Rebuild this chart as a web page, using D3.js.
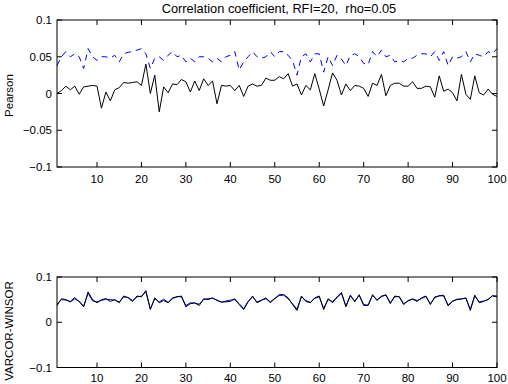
<!DOCTYPE html>
<html>
<head>
<meta charset="utf-8">
<script src="https://cdn.jsdelivr.net/npm/d3@7"></script>
<style>
  body { margin: 0; background: #fff; }
  svg { display: block; font-family: "Liberation Sans", Arial, Helvetica, sans-serif; }
</style>
</head>
<body>
<svg id="chart"></svg>
<script>
// Data (index 1..100)
const titleText = 'Correlation coefficient, RFI=20,  rho=0.05';
const xTicks = [10, 20, 30, 40, 50, 60, 70, 80, 90, 100];
const topYTicks = [-0.1, -0.05, 0, 0.05, 0.1];
const bottomYTicks = [-0.1, 0, 0.1];

const pearsonBlack = [
  0.000, 0.004, 0.010, 0.005, 0.010, -0.001, 0.009, 0.010, 0.011, 0.010,
  -0.020, 0.002, -0.010, 0.005, 0.008, 0.015, 0.014, 0.015, 0.016, 0.011,
  0.040, 0.000, 0.025, -0.025, 0.009, 0.001, 0.013, 0.012, 0.019, 0.016,
  0.002, 0.017, 0.004, 0.020, 0.011, 0.017, -0.014, 0.011, 0.010, 0.011,
  0.004, 0.011, -0.004, 0.010, 0.013, 0.010, 0.011, 0.021, 0.018, 0.018,
  0.023, 0.020, 0.027, 0.010, 0.013, -0.002, 0.011, 0.005, 0.027, 0.006,
  -0.017, 0.005, 0.028, 0.018, -0.002, 0.013, 0.004, 0.011, 0.010, 0.007,
  -0.004, 0.014, 0.011, 0.026, -0.003, 0.011, 0.014, 0.014, 0.010, 0.010,
  0.016, 0.007, 0.007, 0.010, 0.009, -0.005, 0.024, 0.003, 0.006, 0.001,
  -0.010, 0.026, -0.001, -0.008, 0.024, 0.001, -0.002, 0.006, -0.001, -0.004
];
const pearsonBlue = [
  0.038, 0.050, 0.057, 0.050, 0.054, 0.050, 0.034, 0.061, 0.050, 0.045,
  0.050, 0.050, 0.048, 0.052, 0.043, 0.054, 0.056, 0.057, 0.059, 0.061,
  0.054, 0.034, 0.048, 0.050, 0.045, 0.052, 0.057, 0.050, 0.052, 0.043,
  0.048, 0.043, 0.050, 0.050, 0.048, 0.043, 0.048, 0.043, 0.050, 0.052,
  0.057, 0.032, 0.043, 0.050, 0.057, 0.050, 0.048, 0.050, 0.057, 0.050,
  0.057, 0.057, 0.052, 0.045, 0.025, 0.050, 0.054, 0.043, 0.054, 0.054,
  0.029, 0.050, 0.038, 0.052, 0.047, 0.038, 0.052, 0.054, 0.050, 0.041,
  0.039, 0.057, 0.050, 0.059, 0.050, 0.052, 0.043, 0.045, 0.043, 0.048,
  0.048, 0.052, 0.054, 0.054, 0.050, 0.057, 0.045, 0.057, 0.038, 0.050,
  0.048, 0.050, 0.057, 0.043, 0.054, 0.052, 0.050, 0.057, 0.054, 0.061
];
const varcorBlack = [
  0.037, 0.052, 0.050, 0.045, 0.052, 0.046, 0.034, 0.067, 0.050, 0.043,
  0.050, 0.052, 0.046, 0.050, 0.043, 0.058, 0.054, 0.046, 0.058, 0.056,
  0.070, 0.028, 0.054, 0.043, 0.048, 0.043, 0.054, 0.056, 0.058, 0.034,
  0.041, 0.043, 0.037, 0.052, 0.050, 0.054, 0.048, 0.045, 0.045, 0.046,
  0.052, 0.039, 0.028, 0.045, 0.058, 0.043, 0.048, 0.054, 0.043, 0.052,
  0.061, 0.061, 0.054, 0.039, 0.026, 0.058, 0.046, 0.043, 0.054, 0.058,
  0.028, 0.052, 0.043, 0.056, 0.066, 0.034, 0.060, 0.045, 0.061, 0.037,
  0.037, 0.061, 0.048, 0.058, 0.060, 0.041, 0.058, 0.056, 0.039, 0.048,
  0.051, 0.046, 0.054, 0.058, 0.039, 0.056, 0.058, 0.060, 0.036, 0.046,
  0.051, 0.051, 0.054, 0.026, 0.060, 0.043, 0.046, 0.051, 0.058, 0.056
];
const varcorBlue = [
  0.040, 0.050, 0.049, 0.046, 0.055, 0.045, 0.036, 0.064, 0.047, 0.045,
  0.048, 0.051, 0.050, 0.049, 0.045, 0.056, 0.055, 0.048, 0.056, 0.058,
  0.067, 0.030, 0.052, 0.045, 0.051, 0.044, 0.052, 0.057, 0.056, 0.037,
  0.043, 0.042, 0.040, 0.050, 0.052, 0.053, 0.049, 0.044, 0.047, 0.049,
  0.050, 0.041, 0.030, 0.046, 0.056, 0.045, 0.049, 0.052, 0.045, 0.053,
  0.059, 0.060, 0.052, 0.041, 0.029, 0.056, 0.048, 0.044, 0.053, 0.056,
  0.031, 0.050, 0.046, 0.054, 0.064, 0.036, 0.058, 0.047, 0.059, 0.039,
  0.038, 0.059, 0.050, 0.056, 0.061, 0.043, 0.056, 0.057, 0.041, 0.047,
  0.052, 0.048, 0.052, 0.057, 0.041, 0.054, 0.059, 0.058, 0.038, 0.047,
  0.050, 0.052, 0.053, 0.029, 0.058, 0.045, 0.047, 0.050, 0.059, 0.058
];

const W = 508, H = 384;
const svg = d3.select('#chart').attr('width', W).attr('height', H);
svg.append('rect').attr('width', W).attr('height', H).attr('fill', '#fff');

const x = d3.scaleLinear().domain([1, 100]).range([57, 497]);
const idx = d3.range(1, 101);

function panel(top, bottom, yTicks, black, blue, dashed, label, labelGap, labelY) {
  const y = d3.scaleLinear().domain([-0.1, 0.1]).range([bottom, top]);
  const g = svg.append('g');
  const tickLen = 5;

  // lines
  const line = d3.line().x((d, i) => x(idx[i])).y(d => y(d));
  g.append('path').datum(blue).attr('d', line)
    .attr('fill', 'none').attr('stroke', '#0000ff').attr('stroke-width', 1)
    .attr('stroke-dasharray', dashed ? '6,5' : null);
  g.append('path').datum(black).attr('d', line)
    .attr('fill', 'none').attr('stroke', '#000').attr('stroke-width', 1);

  // box
  g.append('rect').attr('x', x(1)).attr('y', top)
    .attr('width', x(100) - x(1)).attr('height', bottom - top)
    .attr('fill', 'none').attr('stroke', '#000').attr('stroke-width', 1);

  // x ticks (inward, bottom and top)
  g.selectAll('.xt').data(xTicks).enter().append('path')
    .attr('d', d => `M${x(d)},${bottom}v${-tickLen}M${x(d)},${top}v${tickLen}`)
    .attr('stroke', '#000');
  g.selectAll('.xl').data(xTicks).enter().append('text')
    .attr('x', d => x(d)).attr('y', bottom + labelGap)
    .attr('text-anchor', 'middle').attr('font-size', 11.5)
    .text(d => d);

  // y ticks (inward, left and right)
  g.selectAll('.yt').data(yTicks).enter().append('path')
    .attr('d', d => `M${x(1)},${y(d)}h${tickLen}M${x(100)},${y(d)}h${-tickLen}`)
    .attr('stroke', '#000');
  g.selectAll('.yl').data(yTicks).enter().append('text')
    .attr('x', x(1) - 5).attr('y', d => y(d) + 4)
    .attr('text-anchor', 'end').attr('font-size', 11.5)
    .text(d => d === 0 ? '0' : d3.format('')(d).replace('-', '\u2212'));

  svg.append('text')
    .attr('transform', `translate(13,${labelY}) rotate(-90)`)
    .attr('text-anchor', 'middle').attr('font-size', 11.5)
    .text(label);
}

panel(20, 167, topYTicks, pearsonBlack, pearsonBlue, true, 'Pearson', 15.5, 95.5);
panel(277, 367.5, bottomYTicks, varcorBlack, varcorBlue, false, 'VARCOR-WINSOR', 14, 331);

svg.append('text')
  .attr('x', 279).attr('y', 13)
  .attr('text-anchor', 'middle').attr('font-size', 12.8)
  .style('white-space', 'pre')
  .text(titleText);
</script>
</body>
</html>
